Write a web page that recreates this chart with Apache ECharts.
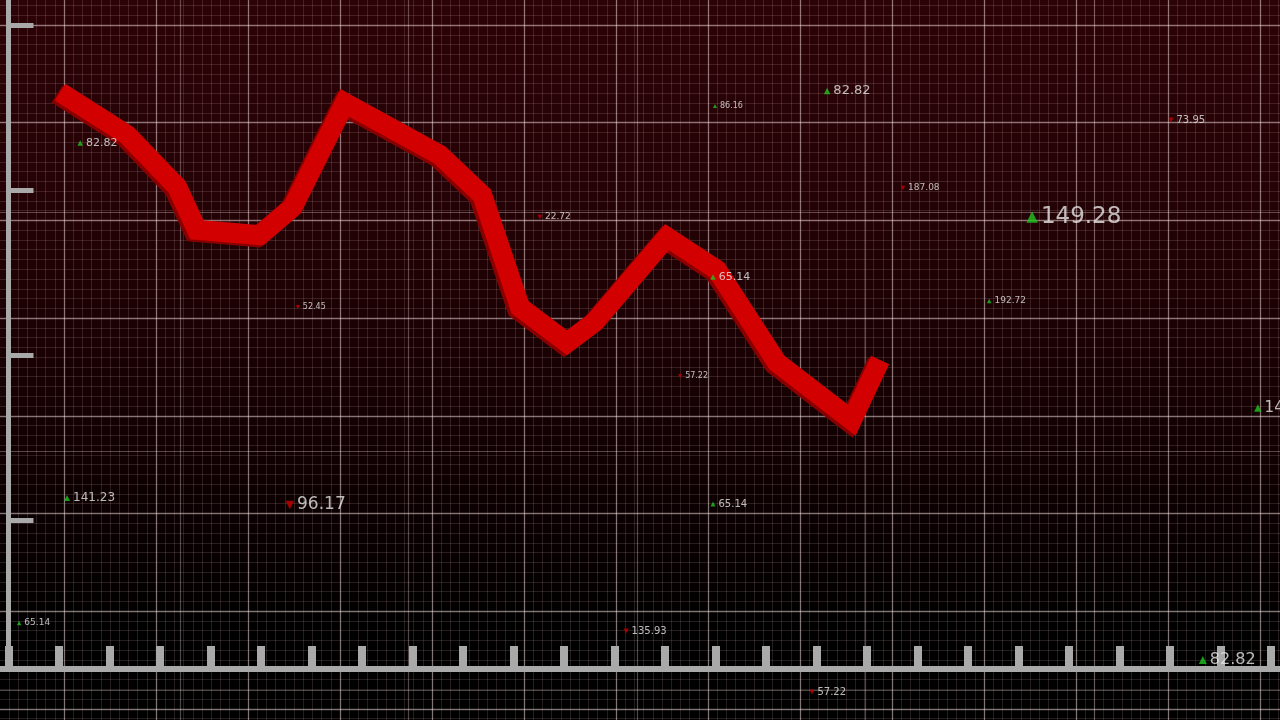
<!DOCTYPE html>
<html>
<head>
<meta charset="utf-8">
<script src="https://cdn.jsdelivr.net/npm/echarts@6/dist/echarts.min.js"></script>
<style>
html,body{margin:0;padding:0;background:#000;}
#chart{width:1280px;height:720px;background:linear-gradient(to bottom,#2c0307 0%,#230205 30%,#160103 55%,#070001 78%,#000 88%,#000 100%);}
</style>
</head>
<body>
<div id="chart"></div>
<script>
// ---- main red line (x: tick index, y: value 0..100) ----
var lineX = [1.02, 2.35, 3.34, 3.73, 4.98, 5.63, 6.66, 8.54, 9.38, 10.13, 11.06, 11.61, 13.04, 14.03, 15.22, 16.70, 17.26];
var lineY = [86.2, 79.8, 72.0, 65.6, 64.8, 69.0, 84.6, 76.8, 70.8, 54.0, 48.7, 51.8, 64.5, 59.6, 45.7, 37.1, 46.1];

// ---- floating price tags ----
var tagX    = [1.42, 13.99, 16.21, 23.02, 17.71, 20.27, 10.52, 5.73, 13.95, 19.42, 13.30, 24.74, 1.16, 5.57, 13.95, 0.21, 12.23, 23.65, 15.91];
var tagY    = [78.59, 84.13, 86.38, 82.04, 71.86, 67.51, 67.51, 54.04, 58.53, 54.94, 43.71, 38.92, 25.45, 24.40, 24.55, 6.74, 5.54, 1.20, -3.59];
var tagText = ['82.82','86.16','82.82','73.95','187.08','149.28','22.72','52.45','65.14','192.72','57.22','149.28','141.23','96.17','65.14','65.14','135.93','82.82','57.22'];
var tagDir  = ['up','up','up','down','down','up','down','down','up','up','down','up','up','down','up','up','down','up','down'];
var tagFont = [11, 8, 13, 10, 9, 23, 9, 8, 11, 9, 8, 15, 12, 17, 10, 9, 10, 16, 10];

// ---- axis ticks ----
var xTickCount = 25;   // ticks along the bottom axis
var yTickCount = 3;    // intervals of the left tick marks

var chart = echarts.init(document.getElementById('chart'), null, {renderer:'canvas'});

var W = 1280, H = 720;
var axisGray = '#a9a9a9';
function hiddenAxis(extra){
  return Object.assign({type:'value', axisLabel:{show:false}, axisTick:{show:false}, axisLine:{show:false}, splitLine:{show:false}}, extra);
}
function gridLines(color, width){
  return {show:true, showMinLine:true, showMaxLine:false, lineStyle:{color:color, width:width}};
}

var tagData = tagX.map(function(x,i){
  var up = tagDir[i]==='up';
  return {
    value:[x, tagY[i]],
    name: tagText[i],
    symbolSize: Math.max(4, tagFont[i]*0.5),
    symbolRotate: up ? 0 : 180,
    itemStyle:{color: up ? '#1fc41f' : '#c80000'},
    label:{fontSize: tagFont[i]}
  };
});

var fineC = 'rgba(255,215,215,0.14)';
var majorC = 'rgba(255,235,235,0.42)';
var extraC = 'rgba(255,235,235,0.30)';

// background grid layers: [first line offset, spacing, colour, width]
var vLayers = [[8.8, 9.2, fineC, 1], [64, 92, majorC, 1.3], [180, 228.5, extraC, 1.2]];
var hLayers = [[5.46, 9.77, fineC, 1], [25, 97.7, majorC, 1.3], [212, 239, extraC, 1.2]];

var grids = [
  {left:8.5, right:9, top:0, bottom:52},     // 0 main
  {left:8.5, width:100, top:25, height:495}, // 1 left tick marks
  {left:0, right:0, top:0, bottom:51}        // 2 full baseline
];
var xAxes = [
  {type:'value', gridIndex:0, min:0, max:xTickCount, interval:1,
   axisLine:{show:false}, axisLabel:{show:false}, splitLine:{show:false},
   axisTick:{show:true, inside:true, length:22, lineStyle:{color:axisGray, width:8}}, z:5},
  hiddenAxis({gridIndex:1, min:0, max:1}),
  hiddenAxis({gridIndex:2, min:0, max:1, axisLine:{show:true, onZero:false, lineStyle:{color:axisGray, width:6}}, z:4})
];
var yAxes = [
  {type:'value', gridIndex:0, min:0, max:100,
   axisLine:{show:true, onZero:false, lineStyle:{color:axisGray, width:5}},
   axisTick:{show:false}, axisLabel:{show:false}, splitLine:{show:false}, z:5},
  {type:'value', gridIndex:1, min:0, max:yTickCount, interval:1,
   axisLine:{show:false}, axisLabel:{show:false}, splitLine:{show:false},
   axisTick:{show:true, inside:true, length:25, lineStyle:{color:axisGray, width:5}}, z:5},
  hiddenAxis({gridIndex:2, min:0, max:1})
];
vLayers.forEach(function(L){
  var gi = grids.length;
  grids.push({left:L[0], right:0, top:0, bottom:0});
  xAxes.push(hiddenAxis({gridIndex:gi, min:0, max:(W-L[0])/L[1], interval:1, splitLine:gridLines(L[2], L[3])}));
  yAxes.push(hiddenAxis({gridIndex:gi, min:0, max:1}));
});
hLayers.forEach(function(L){
  var gi = grids.length;
  grids.push({left:0, right:0, top:L[0], bottom:0});
  xAxes.push(hiddenAxis({gridIndex:gi, min:0, max:1}));
  yAxes.push(hiddenAxis({gridIndex:gi, inverse:true, min:0, max:(H-L[0])/L[1], interval:1, splitLine:gridLines(L[2], L[3])}));
});

var option = {
  animation:false,
  backgroundColor:'transparent',
  grid:grids,
  xAxis:xAxes,
  yAxis:yAxes,
  series:[
    {
      type:'line', xAxisIndex:0, yAxisIndex:0, z:10,
      data: lineX.map(function(x,i){return [x, lineY[i]];}),
      showSymbol:false, symbol:'none', clip:false,
      lineStyle:{color:'#d20000', width:20, cap:'butt', join:'miter',
        shadowColor:'#8a0000', shadowBlur:0, shadowOffsetX:-3, shadowOffsetY:2}
    },
    {
      type:'scatter', xAxisIndex:0, yAxisIndex:0, z:12, clip:false,
      symbol:'triangle',
      data: tagData,
      label:{show:true, position:'right', distance:3, color:'#e6e6e6',
        fontFamily:'"DejaVu Sans", sans-serif',
        formatter:function(p){return p.name;}}
    }
  ]
};
chart.setOption(option);
</script>
</body>
</html>
